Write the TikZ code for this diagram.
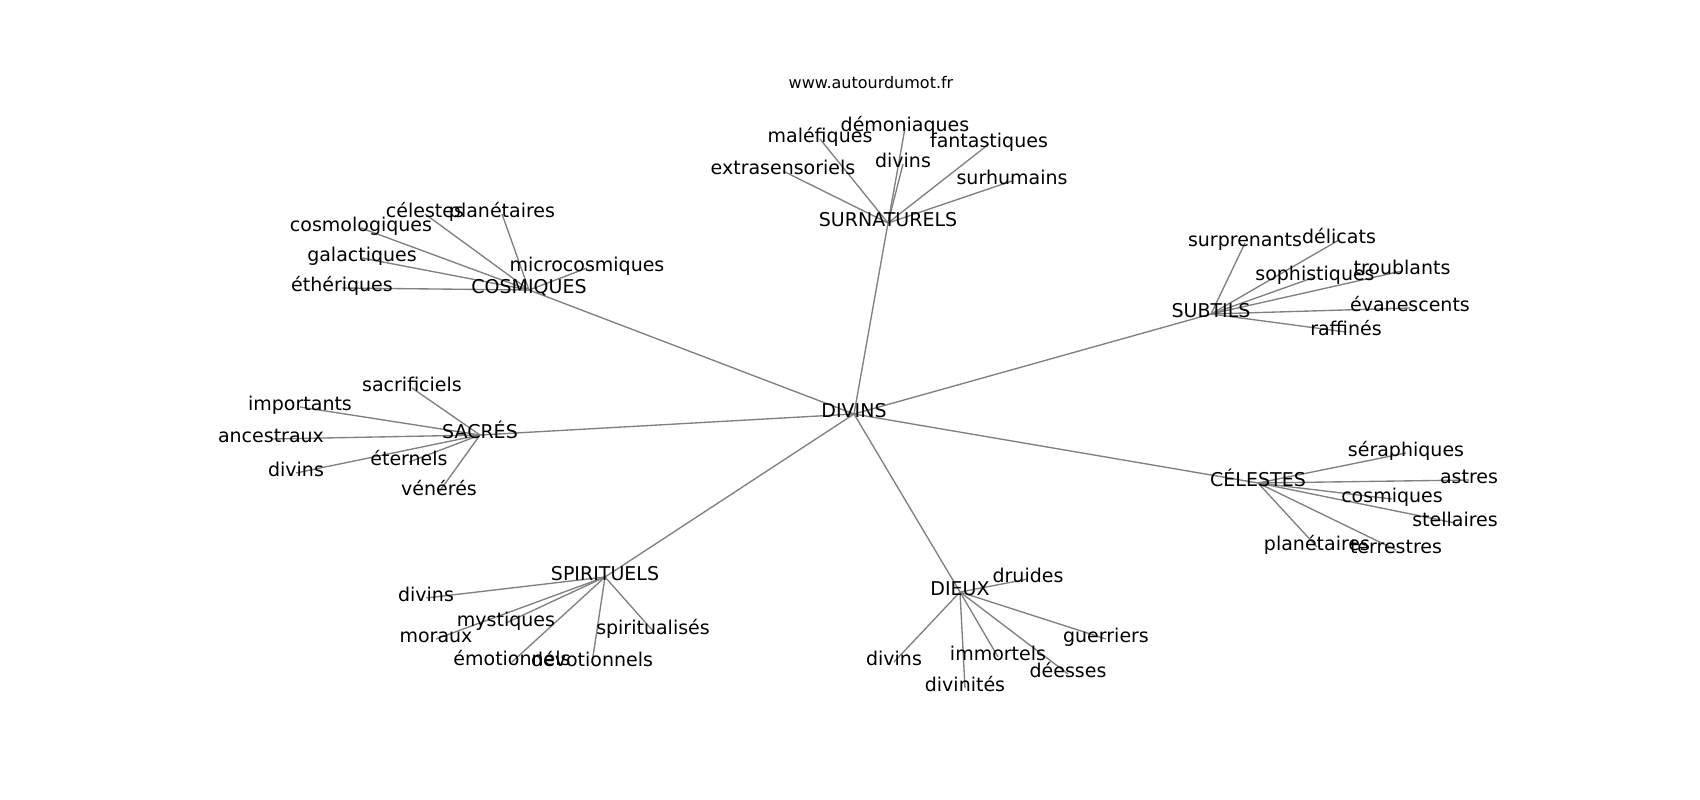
\documentclass[tikz,border=0pt]{standalone}
\usepackage{fontspec}
\setmainfont{DejaVu Sans}
\usetikzlibrary{backgrounds}
\begin{document}
\begin{tikzpicture}[x=1pt,y=-1pt,
  lbl/.style={inner sep=0pt,text height=0.73em,text depth=0pt,font=\fontsize{19}{23}\selectfont,text=black,yshift=-5pt},
  edge/.style={draw=black!50,line width=1.35pt}]
\useasboundingbox (0,0) rectangle (1700,800);
\node[inner sep=0pt,font=\fontsize{16}{19}\selectfont] (title) at (871,83) {www.autourdumot.fr};
% hubs
\node[lbl] (divins) at (854,409) {DIVINS};
\node[lbl] (surn) at (888,218) {SURNATURELS};
\node[lbl] (cosm) at (529,285) {COSMIQUES};
\node[lbl] (subt) at (1211,309) {SUBTILS};
\node[lbl] (sacr) at (480,430) {SACRÉS};
\node[lbl] (cele) at (1258,478) {CÉLESTES};
\node[lbl] (spir) at (605,572) {SPIRITUELS};
\node[lbl] (dieux) at (960,587) {DIEUX};
% surnaturels
\node[lbl] (sn1) at (783,166) {extrasensoriels};
\node[lbl] (sn2) at (820,134) {maléfiques};
\node[lbl] (sn3) at (905,123) {démoniaques};
\node[lbl] (sn4) at (903,159) {divins};
\node[lbl] (sn5) at (989,139) {fantastiques};
\node[lbl] (sn6) at (1012,176) {surhumains};
% cosmiques
\node[lbl] (co1) at (342,283) {éthériques};
\node[lbl] (co2) at (362,253) {galactiques};
\node[lbl] (co3) at (361,223) {cosmologiques};
\node[lbl] (co4) at (425,209) {célestes};
\node[lbl] (co5) at (502,209) {planétaires};
\node[lbl] (co6) at (587,263) {microcosmiques};
% subtils
\node[lbl] (su1) at (1245,238) {surprenants};
\node[lbl] (su2) at (1339,235) {délicats};
\node[lbl] (su3) at (1315,272) {sophistiques};
\node[lbl] (su4) at (1402,266) {troublants};
\node[lbl] (su5) at (1410,303) {évanescents};
\node[lbl] (su6) at (1346,327) {raffinés};
% sacres
\node[lbl] (sa1) at (412,383) {sacrificiels};
\node[lbl] (sa2) at (300,402) {importants};
\node[lbl] (sa3) at (271,434) {ancestraux};
\node[lbl] (sa4) at (296,468) {divins};
\node[lbl] (sa5) at (409,457) {éternels};
\node[lbl] (sa6) at (439,487) {vénérés};
% celestes
\node[lbl] (ce1) at (1406,448) {séraphiques};
\node[lbl] (ce2) at (1469,475) {astres};
\node[lbl] (ce3) at (1392,494) {cosmiques};
\node[lbl] (ce4) at (1455,518) {stellaires};
\node[lbl] (ce5) at (1317,542) {planétaires};
\node[lbl] (ce6) at (1396,545) {terrestres};
% spirituels
\node[lbl] (sp1) at (426,593) {divins};
\node[lbl] (sp2) at (506,618) {mystiques};
\node[lbl] (sp3) at (653,626) {spiritualisés};
\node[lbl] (sp4) at (436,634) {moraux};
\node[lbl] (sp5) at (512,657) {émotionnels};
\node[lbl] (sp6) at (592,658) {dévotionnels};
% dieux
\node[lbl] (di1) at (1028,574) {druides};
\node[lbl] (di2) at (1106,634) {guerriers};
\node[lbl] (di3) at (894,657) {divins};
\node[lbl] (di4) at (998,652) {immortels};
\node[lbl] (di5) at (1068,669) {déesses};
\node[lbl] (di6) at (965,683) {divinités};
\begin{scope}[on background layer]
\foreach \h in {surn,cosm,subt,sacr,cele,spir,dieux}
  \draw[edge] (divins.center) -- (\h.center);
\foreach \n in {sn1,sn2,sn3,sn4,sn5,sn6} \draw[edge] (surn.center) -- (\n.center);
\foreach \n in {co1,co2,co3,co4,co5,co6} \draw[edge] (cosm.center) -- (\n.center);
\foreach \n in {su1,su2,su3,su4,su5,su6} \draw[edge] (subt.center) -- (\n.center);
\foreach \n in {sa1,sa2,sa3,sa4,sa5,sa6} \draw[edge] (sacr.center) -- (\n.center);
\foreach \n in {ce1,ce2,ce3,ce4,ce5,ce6} \draw[edge] (cele.center) -- (\n.center);
\foreach \n in {sp1,sp2,sp3,sp4,sp5,sp6} \draw[edge] (spir.center) -- (\n.center);
\foreach \n in {di1,di2,di3,di4,di5,di6} \draw[edge] (dieux.center) -- (\n.center);
\end{scope}
\end{tikzpicture}
\end{document}
